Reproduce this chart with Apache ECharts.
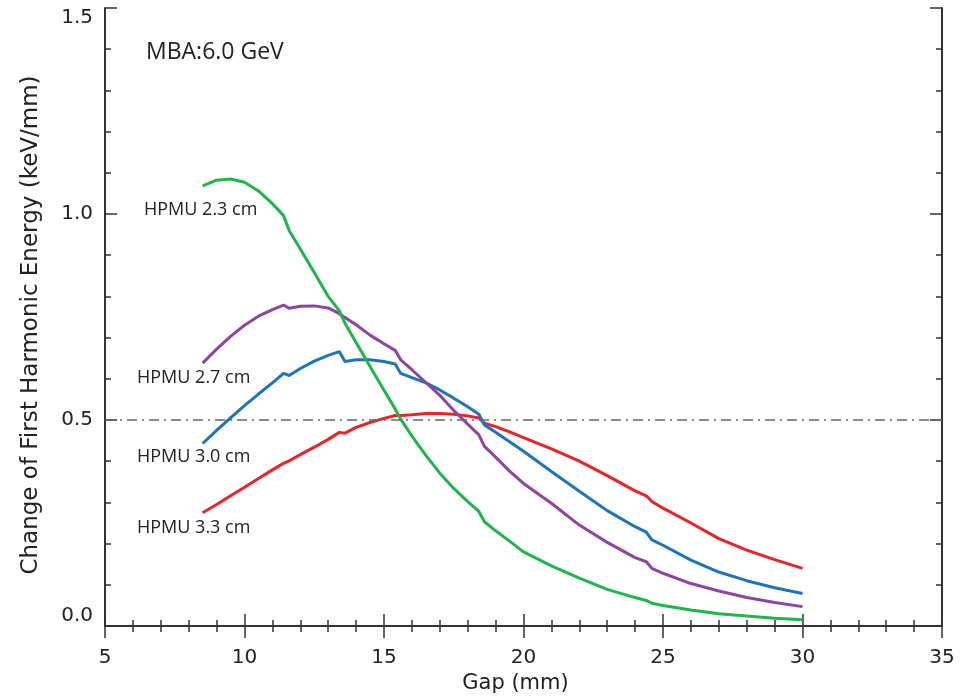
<!DOCTYPE html>
<html>
<head>
<meta charset="utf-8">
<script src="https://cdn.jsdelivr.net/npm/echarts@6/dist/echarts.min.js"></script>
<style>
  html, body { margin: 0; padding: 0; background: #fff; }
  #chart { width: 962px; height: 697px; }
</style>
</head>
<body>
<div id="chart"></div>
<script>
// gap values (mm) shared by all curves
const gaps = [8.5, 9, 9.5, 10, 10.5, 11, 11.4, 11.6, 12, 12.5, 13, 13.4, 13.6, 14, 14.5, 15, 15.4, 15.6,
  16, 16.5, 17, 17.5, 18, 18.4, 18.6, 19, 19.5, 20, 21, 22, 23, 24, 24.4, 24.6, 25, 26, 27, 28, 29, 30];

const hpmu23 = [1.068, 1.082, 1.085, 1.077, 1.056, 1.025, 0.996, 0.960, 0.915, 0.858, 0.800, 0.765, 0.735,
  0.688, 0.630, 0.572, 0.527, 0.502, 0.461, 0.414, 0.371, 0.334, 0.302, 0.278, 0.253, 0.231, 0.206, 0.180,
  0.146, 0.116, 0.089, 0.069, 0.062, 0.055, 0.050, 0.039, 0.030, 0.024, 0.019, 0.015];

const hpmu27 = [0.638, 0.672, 0.703, 0.730, 0.752, 0.768, 0.779, 0.771, 0.776, 0.777, 0.772, 0.758, 0.749,
  0.731, 0.706, 0.685, 0.669, 0.646, 0.622, 0.591, 0.560, 0.523, 0.490, 0.464, 0.436, 0.410, 0.376, 0.346,
  0.298, 0.245, 0.203, 0.166, 0.156, 0.140, 0.128, 0.103, 0.085, 0.069, 0.057, 0.047];

const hpmu30 = [0.443, 0.475, 0.505, 0.535, 0.563, 0.590, 0.613, 0.608, 0.625, 0.643, 0.657, 0.666, 0.642,
  0.646, 0.646, 0.642, 0.636, 0.613, 0.603, 0.590, 0.573, 0.553, 0.532, 0.514, 0.488, 0.470, 0.447, 0.424,
  0.375, 0.327, 0.280, 0.241, 0.228, 0.209, 0.196, 0.160, 0.131, 0.110, 0.093, 0.079];

const hpmu33 = [0.275, 0.295, 0.316, 0.337, 0.358, 0.379, 0.395, 0.401, 0.416, 0.434, 0.453, 0.470, 0.468,
  0.482, 0.494, 0.504, 0.511, 0.511, 0.513, 0.516, 0.516, 0.514, 0.510, 0.505, 0.492, 0.484, 0.471, 0.457,
  0.430, 0.400, 0.365, 0.328, 0.316, 0.302, 0.286, 0.250, 0.212, 0.184, 0.161, 0.140];

const xTicks = [5, 10, 15, 20, 25, 30, 35];
const yTicks = [0, 0.5, 1.0, 1.5];
const refLevel = 0.5;

const fontFam = "'DejaVu Sans', sans-serif";
const noteFont = "'Open Sans', sans-serif";
const axisColor = '#333';

const pairs = (vals) => gaps.map((g, i) => [g, vals[i]]);

const curve = (name, vals, color) => ({
  name: name,
  type: 'line',
  data: pairs(vals),
  showSymbol: false,
  smooth: false,
  lineStyle: { color: color, width: 3 },
  z: 3
});

function frameAxis(pos, isX, showLabel) {
  return {
    type: 'value',
    position: pos,
    min: isX ? xTicks[0] : yTicks[0],
    max: isX ? xTicks[xTicks.length - 1] : yTicks[yTicks.length - 1],
    interval: isX ? 5 : 0.5,
    axisLine: { show: true, lineStyle: { color: axisColor, width: 2 } },
    axisTick: { show: true, inside: true, length: 12, lineStyle: { color: axisColor, width: 1.5 } },
    minorTick: { show: true, splitNumber: 5, length: 6, lineStyle: { color: axisColor, width: 1.5 } },
    splitLine: { show: false },
    axisLabel: {
      show: showLabel,
      color: '#222',
      fontFamily: fontFam,
      fontSize: 20,
      margin: isX ? 22 : 12,
      verticalAlignMinLabel: isX ? undefined : 'bottom',
      verticalAlignMaxLabel: isX ? undefined : 'top',
      formatter: isX ? (v) => String(v) : (v) => v.toFixed(1)
    }
  };
}

const chart = echarts.init(document.getElementById('chart'));

const xMain = frameAxis('bottom', true, true);
xMain.name = 'Gap (mm)';
xMain.nameLocation = 'middle';
xMain.nameGap = 47;
xMain.nameTextStyle = { fontFamily: fontFam, fontSize: 21, color: '#222', padding: [0, 16, 0, 0] };

const yMain = frameAxis('left', false, true);
yMain.name = 'Change of First Harmonic Energy (keV/mm)';
yMain.nameLocation = 'middle';
yMain.nameGap = 62;
yMain.nameTextStyle = { fontFamily: fontFam, fontSize: 23, color: '#222', padding: [0, 16, 0, 0] };

const labelStyle = { fontFamily: noteFont, fontSize: 18, fill: '#222' };

const option = {
  backgroundColor: '#fff',
  animation: false,
  grid: { left: 105, right: 20, top: 8, bottom: 71, containLabel: false, outerBoundsMode: 'none' },
  xAxis: [xMain, frameAxis('top', true, false)],
  yAxis: [yMain, frameAxis('right', false, false)],
  series: [
    curve('HPMU 3.3 cm', hpmu33, '#ec2227'),
    curve('HPMU 3.0 cm', hpmu30, '#1c75bc'),
    curve('HPMU 2.7 cm', hpmu27, '#8e44a1'),
    Object.assign(curve('HPMU 2.3 cm', hpmu23, '#1fb54a'), {
      markLine: {
        silent: true,
        symbol: 'none',
        label: { show: false },
        lineStyle: { color: '#666', width: 1.5, type: [10, 5, 2, 5] },
        data: [{ yAxis: refLevel }]
      }
    })
  ],
  graphic: [
    { type: 'text', left: 146, top: 41, style: Object.assign({}, labelStyle, { text: 'MBA:6.0 GeV', fontSize: 23 }) },
    { type: 'text', left: 144, top: 201, style: Object.assign({}, labelStyle, { text: 'HPMU 2.3 cm' }) },
    { type: 'text', left: 137, top: 369, style: Object.assign({}, labelStyle, { text: 'HPMU 2.7 cm' }) },
    { type: 'text', left: 137, top: 448, style: Object.assign({}, labelStyle, { text: 'HPMU 3.0 cm' }) },
    { type: 'text', left: 137, top: 519, style: Object.assign({}, labelStyle, { text: 'HPMU 3.3 cm' }) }
  ]
};

chart.setOption(option);
</script>
</body>
</html>
